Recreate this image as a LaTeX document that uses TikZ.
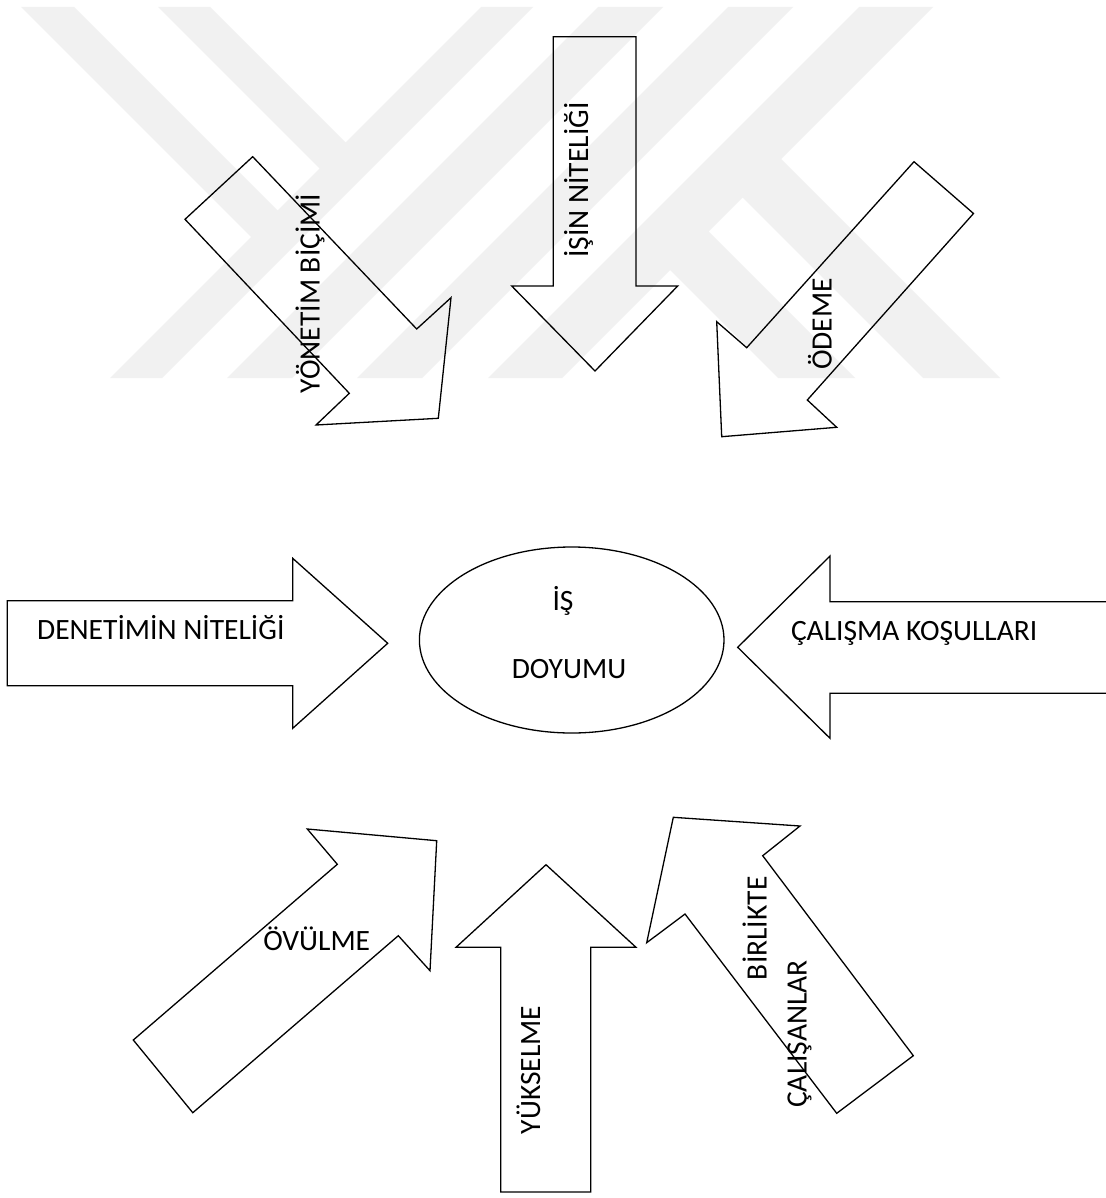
\documentclass[tikz,border=0pt]{standalone}
\usepackage{fontspec}
\setmainfont{Carlito}
\usetikzlibrary{shapes.geometric}
\definecolor{wmgray}{RGB}{241,241,241}
\begin{document}
\begin{tikzpicture}[x=1pt,y=-1pt,
  outline/.style={draw=black,line width=1.3pt,line join=miter},
  lbl/.style={inner sep=0pt,anchor=base,font=\fontsize{29.5}{35}\selectfont},
  vlbl/.style={lbl,rotate=90},
  band/.style={fill=wmgray,draw=none}]
\useasboundingbox (0,0) rectangle (1105,1198);
\fill[white] (0,0) rectangle (1105,1198);

% faint logo stripes across the top of the page
\begin{scope}
  \clip (0,7) rectangle (1105,378);
  \fill[band] (21,7) -- (74,7) -- (283.5,216.5) -- (257,243) -- cycle;
  \fill[band] (158,7) -- (210,7) -- (351.5,148.5) -- (325.5,174.5) -- cycle;
  \fill[band] (481,7) -- (533,7) -- (162,378) -- (110,378) -- cycle;
  \fill[band] (598,7) -- (663,7) -- (292,378) -- (227,378) -- cycle;
  \fill[band] (728,7) -- (793,7) -- (422,378) -- (357,378) -- cycle;
  \fill[band] (859,7) -- (933,7) -- (562,378) -- (488,378) -- cycle;
  \fill[band] (771,149) -- (732.5,187.5) -- (923,378) -- (1000,378) -- cycle;
  \fill[band] (698.5,221.5) -- (660,260) -- (778,378) -- (855,378) -- cycle;
\end{scope}

% central ellipse
\node[ellipse,draw=black,line width=1.3pt,inner sep=0pt,
      minimum width=304.6pt,minimum height=186pt] (doyum) at (571.7,640) {};
\node[lbl] (is) at (563,610) {İŞ};
\node[lbl] (doyumu) at (569,678.3) {DOYUMU};

% arrows pointing towards the centre
\draw[outline] (595,371) -- (511.7,286) -- (553.3,286) -- (553.3,36.7)
  -- (636,36.7) -- (636,286) -- (677.7,286) -- cycle;
\node[vlbl] (nitelik) at (588,180) {İŞİN NİTELİĞİ};

\draw[outline] (252.7,156.7) -- (185,219.3) -- (349.3,393.3) -- (316,425)
  -- (438.3,418.3) -- (451,297.7) -- (416.7,329) -- cycle;
\node[vlbl] (yonetim) at (319.5,293.4) {YÖNETİM BİÇİMİ};

\draw[outline] (914,161.7) -- (973.5,213.5) -- (807.3,400) -- (836.7,427.3)
  -- (721.7,436.7) -- (716.7,321.7) -- (746.7,347.7) -- cycle;
\node[vlbl] (odeme) at (831.5,324) {ÖDEME};

\draw[outline] (7.3,600.7) -- (292.7,600.7) -- (292.7,558.3) -- (387.7,643.3)
  -- (292.7,728.3) -- (292.7,685.7) -- (7.3,685.7) -- cycle;
\node[lbl] (denetim) at (160.8,639.5) {DENETİMİN NİTELİĞİ};

\draw[outline] (1112,601.7) -- (830,601.7) -- (830,556) -- (737.7,647.3)
  -- (830,738.3) -- (830,693.3) -- (1112,693.3);
\node[lbl] (kosul) at (914.2,640) {ÇALIŞMA KOŞULLARI};

\draw[outline] (133.3,1040) -- (337.3,864.3) -- (307.3,829) -- (436.7,840.7)
  -- (430,970.7) -- (398.3,935.7) -- (192.8,1112.7) -- cycle;
\node[lbl] (ovulme) at (316.7,950) {ÖVÜLME};

\draw[outline] (546,864.7) -- (636,947.3) -- (590.7,947.3) -- (590.7,1192)
  -- (500.7,1192) -- (500.7,947.3) -- (456,947.3) -- cycle;
\node[vlbl] (yukselme) at (540,1070) {YÜKSELME};

\draw[outline] (673.3,817.3) -- (800,826) -- (762.7,855.7) -- (913.3,1055.7)
  -- (836.7,1113.3) -- (685,914) -- (646.7,942.7) -- cycle;
\node[vlbl] (birlikte) at (766.7,928.3) {BİRLİKTE};
\node[vlbl] (calisan) at (806.7,1034) {ÇALIŞANLAR};
\end{tikzpicture}
\end{document}
